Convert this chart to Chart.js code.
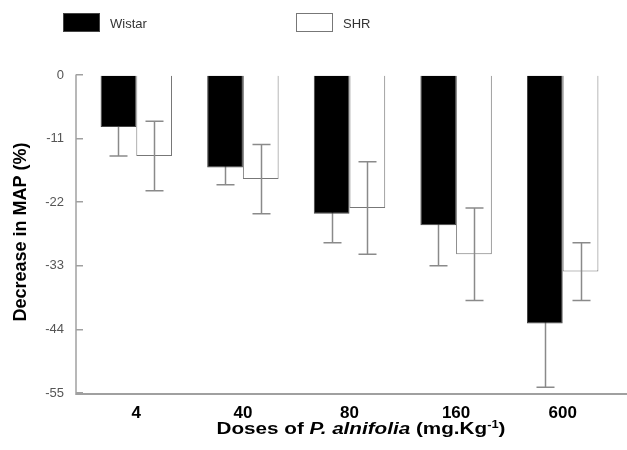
<!DOCTYPE html>
<html>
<head>
<meta charset="utf-8">
<script src="https://cdn.jsdelivr.net/npm/chart.js@4.4.1/dist/chart.umd.min.js"></script>
<style>
  html, body { margin: 0; padding: 0; background: #fff; }
  #wrap { width: 627px; height: 450px; position: relative; }
</style>
</head>
<body>
<div id="wrap"><canvas id="c" width="627" height="450"></canvas></div>
<script>
const categories = ['4', '40', '80', '160', '600'];
const wistar = [-9, -16, -24, -26, -43];
const wistarErr = [5, 3, 5, 7, 11];
const shr = [-14, -18, -23, -31, -34];
const shrErr = [6, 6, 8, 8, 5];
const yTicks = [0, -11, -22, -33, -44, -55];
const seriesNames = ['Wistar', 'SHR'];

const FONT = '"Liberation Sans", Arial, Helvetica, sans-serif';
const errs = [wistarErr, shrErr];

function drawErr(chart, dsIndex) {
  const ctx = chart.ctx;
  const meta = chart.getDatasetMeta(dsIndex);
  const y = chart.scales.y;
  const vals = chart.data.datasets[dsIndex].data;
  ctx.save();
  ctx.strokeStyle = '#8a8a8a';
  ctx.lineWidth = 1.5;
  meta.data.forEach((bar, i) => {
    const v = vals[i], e = errs[dsIndex][i];
    const x = Math.round(bar.x) + 0.5;
    const yt = y.getPixelForValue(v + e);
    const yb = y.getPixelForValue(v - e);
    ctx.beginPath();
    ctx.moveTo(x, yt); ctx.lineTo(x, yb);
    ctx.moveTo(x - 9, yt); ctx.lineTo(x + 9, yt);
    ctx.moveTo(x - 9, yb); ctx.lineTo(x + 9, yb);
    ctx.stroke();
  });
  ctx.restore();
}

const errorBars = {
  id: 'errorBars',
  beforeDatasetsDraw(chart) { drawErr(chart, 0); },
  afterDatasetsDraw(chart) { drawErr(chart, 1); }
};

const decor = {
  id: 'decor',
  afterDraw(chart) {
    const ctx = chart.ctx;
    const a = chart.chartArea;
    const axX = a.left - 7;
    ctx.save();
    // axes
    ctx.strokeStyle = '#a0a0a0';
    ctx.lineWidth = 1.5;
    ctx.beginPath();
    ctx.moveTo(axX, a.top - 0.5);
    ctx.lineTo(axX, a.bottom);
    ctx.stroke();
    ctx.lineWidth = 2;
    ctx.beginPath();
    ctx.moveTo(axX - 0.75, a.bottom + 1);
    ctx.lineTo(chart.width, a.bottom + 1);
    ctx.stroke();

    // y title
    ctx.fillStyle = '#000';
    ctx.font = 'bold 18px ' + FONT;
    ctx.textAlign = 'center';
    ctx.textBaseline = 'middle';
    ctx.translate(21, 232);
    ctx.rotate(-Math.PI / 2);
    ctx.fillText('Decrease in MAP (%)', 0, 0);
    ctx.setTransform(1, 0, 0, 1, 0, 0);

    // x title with italic part and superscript (wide lettering as in the original)
    const parts = [
      { t: 'Doses of ', f: 'bold 16px ' + FONT, dy: 0 },
      { t: 'P. alnifolia', f: 'italic bold 16px ' + FONT, dy: 0 },
      { t: ' (mg.Kg', f: 'bold 16px ' + FONT, dy: 0 },
      { t: '-1', f: 'bold 10px ' + FONT, dy: -6 },
      { t: ')', f: 'bold 16px ' + FONT, dy: 0 }
    ];
    let total = 0;
    parts.forEach(p => { ctx.font = p.f; p.w = ctx.measureText(p.t).width; total += p.w; });
    const targetW = 289, cx = 361;
    const sx = targetW / total;
    ctx.translate(cx - targetW / 2, 0);
    ctx.scale(sx, 1);
    let x = 0;
    ctx.textAlign = 'left';
    ctx.textBaseline = 'alphabetic';
    parts.forEach(p => { ctx.font = p.f; ctx.fillText(p.t, x, 433.5 + p.dy); x += p.w; });
    ctx.setTransform(1, 0, 0, 1, 0, 0);

    // legend
    const ds = chart.data.datasets;
    const items = [{ x: 63 }, { x: 296 }];
    items.forEach((it, i) => {
      ctx.fillStyle = ds[i].backgroundColor;
      ctx.fillRect(it.x, 13, 36, 19);
      ctx.strokeStyle = ds[i].borderColor;
      ctx.lineWidth = 1;
      ctx.strokeRect(it.x + 0.5, 13.5, 36, 18);
      ctx.fillStyle = '#333';
      ctx.font = '13px ' + FONT;
      ctx.textBaseline = 'middle';
      ctx.fillText(seriesNames[i], it.x + 47, 24.5);
    });
    ctx.restore();
  }
};

new Chart(document.getElementById('c'), {
  type: 'bar',
  data: {
    labels: categories,
    datasets: [
      { label: seriesNames[0], data: wistar, backgroundColor: '#000', borderColor: '#444', borderWidth: 1,
        categoryPercentage: 0.67, barPercentage: 1.0 },
      { label: seriesNames[1], data: shr, backgroundColor: '#fff', borderColor: '#777', borderWidth: 1,
        categoryPercentage: 0.67, barPercentage: 1.0 }
    ]
  },
  options: {
    responsive: false,
    animation: false,
    events: [],
    layout: { padding: { left: 0, right: 11, top: 75, bottom: 0 } },
    plugins: { legend: { display: false }, tooltip: { enabled: false } },
    scales: {
      x: {
        grid: { display: false, drawTicks: false },
        border: { display: false },
        ticks: { color: '#000', font: { family: FONT, size: 17, weight: 'bold' }, padding: 10, maxRotation: 0 },
        afterFit(s) { s.height = 57; }
      },
      y: {
        min: -55, max: 0,
        afterBuildTicks(s) { s.ticks = yTicks.map(v => ({ value: v })); },
        grid: { drawOnChartArea: false, drawTicks: true, tickLength: 7, color: '#a0a0a0', lineWidth: 1.5 },
        border: { display: false },
        ticks: { color: '#555', font: { family: FONT, size: 13 }, padding: 12 },
        afterFit(s) { s.width = 83; }
      }
    }
  },
  plugins: [errorBars, decor]
});
</script>
</body>
</html>
